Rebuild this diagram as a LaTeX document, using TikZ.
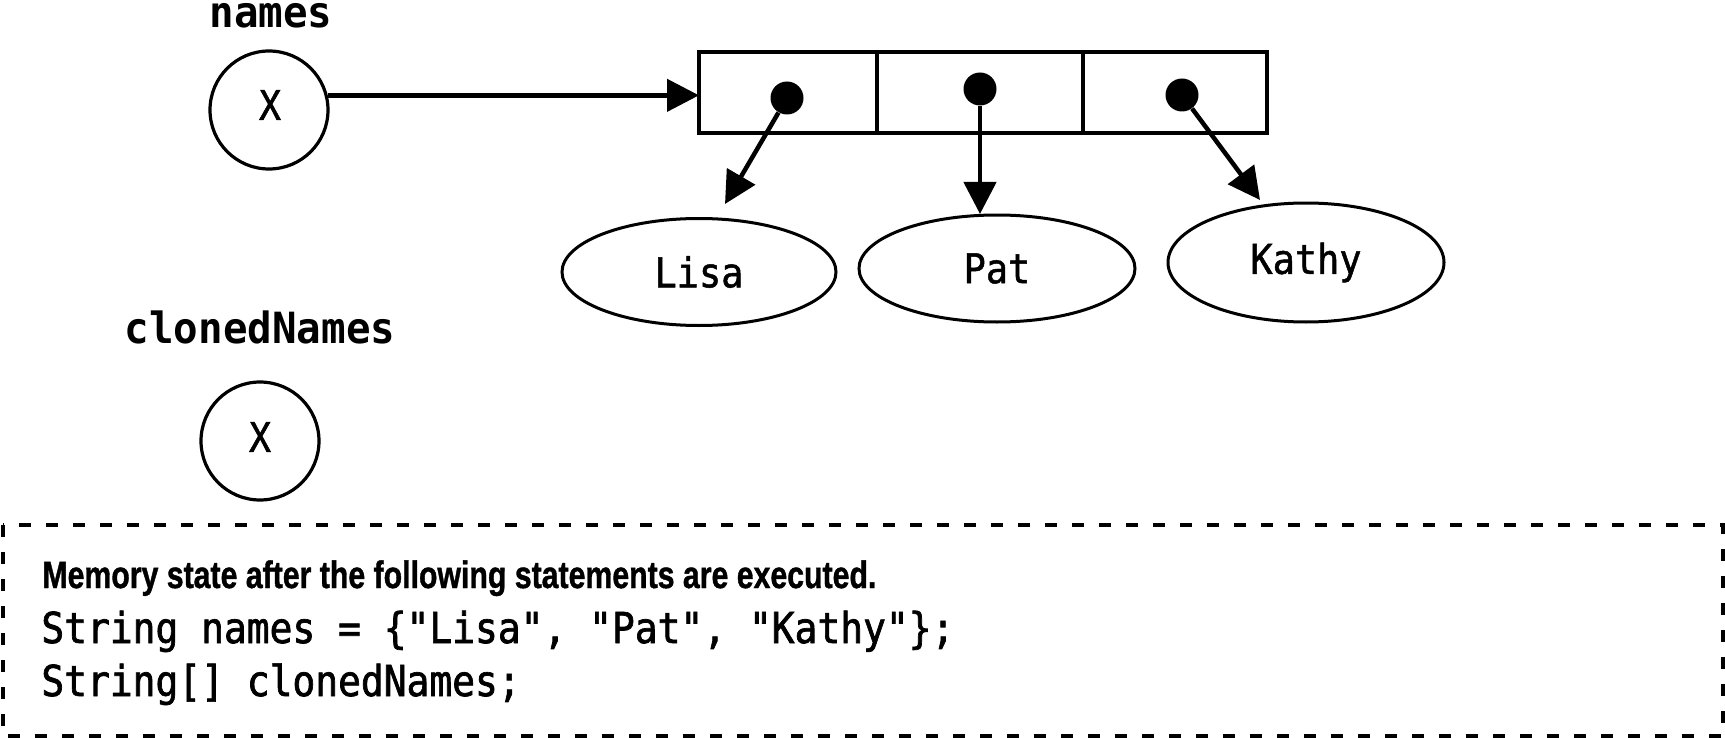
\documentclass[tikz,border=0pt]{standalone}
\usepackage{fontspec}
\usetikzlibrary{arrows.meta,shapes.geometric}
\newfontfamily\monoE[FakeStretch=0.9,FakeBold=1.2]{DejaVu Sans Mono}
\newfontfamily\monoL[FakeStretch=0.95]{DejaVu Sans Mono}
\newfontfamily\codef[FakeStretch=0.89,FakeBold=1.6]{DejaVu Sans Mono}
\newfontfamily\memf[BoldFeatures={FakeBold=1.2}]{Liberation Sans}
\begin{document}
\begin{tikzpicture}[x=0.5pt,y=-0.5pt,
  varcirc/.style={circle,draw,line width=1.6pt,minimum size=59pt,inner sep=0pt},
  varx/.style={inner sep=0pt,font=\monoE\fontsize{20.5pt}{24pt}\selectfont},
  varlabel/.style={inner sep=0pt,anchor=base,font=\monoL\bfseries\fontsize{21.5pt}{26pt}\selectfont},
  cell/.style={rectangle,draw,line width=2pt,minimum height=40.5pt,inner sep=0pt,outer sep=0pt},
  ptr/.style={circle,fill=black,minimum size=16.5pt,inner sep=0pt},
  strobj/.style={ellipse,draw,line width=1.5pt,inner sep=0pt,font=\monoE\fontsize{20.5pt}{24pt}\selectfont},
  arr/.style={line width=2.25pt,-{Triangle[length=16pt,width=16pt]}},
  codeline/.style={inner sep=0pt,anchor=base west,font=\codef\fontsize{21.3pt}{26pt}\selectfont},
  frame/.style={draw,line width=1.75pt,dash pattern=on 6pt off 7.5pt}
]
\useasboundingbox (0,0) rectangle (1725,738);

% variables
\node[varlabel] (lblnames) at (271,28) {names};
\node[varcirc] (n1) at (269,110) {};
\node[varx] (x1) at (270,105) {X};
\node[varlabel] (lblcloned) at (260,343) {clonedNames};
\node[varcirc] (n2) at (260,441) {};
\node[varx] (x2) at (260,437) {X};

% array cells
\node[cell,minimum width=89pt] (c1) at (788,92.5) {};
\node[cell,minimum width=103pt] (c2) at (980,92.5) {};
\node[cell,minimum width=92pt] (c3) at (1175,92.5) {};

% reference arrow
\draw[arr] (n1.14) -- (c1.west |- n1.14);

% string objects
\node[strobj,minimum width=137pt,minimum height=53.5pt] (lisa) at (699,272) {Lisa};
\node[strobj,minimum width=138pt,minimum height=53.5pt] (pat) at (997,268.5) {Pat};
\node[strobj,minimum width=138pt,minimum height=59.5pt] (kathy) at (1306,262.5) {Kathy};

% element pointers
\coordinate (t1) at (725,204);
\coordinate (t2) at (980,214);
\coordinate (t3) at (1260,200);
\node[ptr] (d1) at (787,98) {};
\node[ptr] (d2) at (980,89) {};
\node[ptr] (d3) at (1182,95) {};
\draw[arr] (d1) -- (t1);
\draw[arr] (d2) -- (t2);
\draw[arr] (d3) -- (t3);

% code box
\draw[frame] (3,525) rectangle (1723,736);
\node[inner sep=0pt,anchor=base west] (mem) at (42,588)
  {\resizebox{417pt}{13.8pt}{\memf\bfseries Memory state after the following statements are executed.}};
\node[codeline] (code1) at (41,643) {String names = \{"Lisa", "Pat", "Kathy"\};};
\node[codeline] (code2) at (41,696) {String[] clonedNames;};
\end{tikzpicture}
\end{document}
